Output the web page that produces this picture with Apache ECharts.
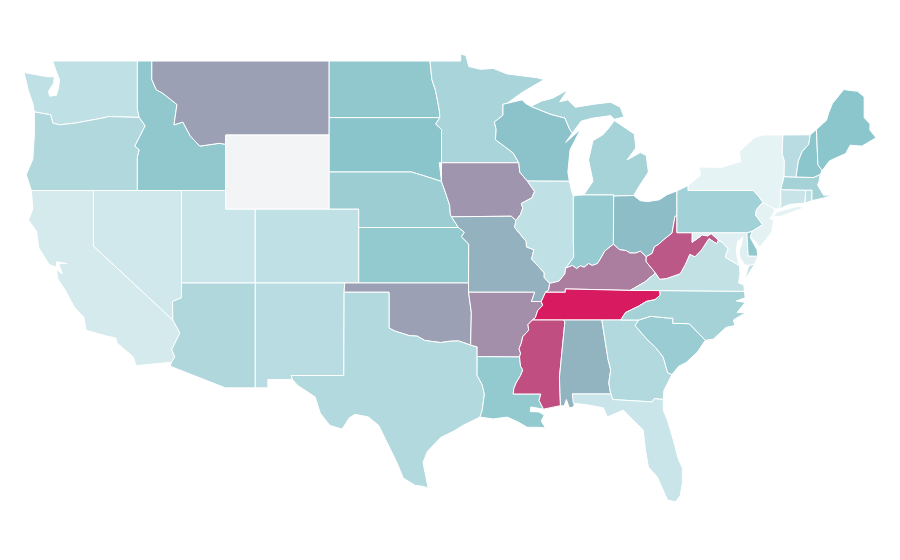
<!DOCTYPE html>
<html>

<head>
    <meta charset="utf-8">
    <script src="https://cdn.jsdelivr.net/npm/echarts@6/dist/echarts.min.js"></script>
    <style>
        html, body { margin: 0; background: #fff; }
    </style>
</head>

<body>
    <div id="main" style="width: 900px;height:560px;"></div>
    <script type="text/javascript">
        // values (Wyoming has no value, it is drawn in the pale grey)
        var stateNames = ['Washington', 'Oregon', 'California', 'Nevada', 'Idaho', 'Montana', 'Utah', 'Arizona', 'Colorado', 'New Mexico',
            'North Dakota', 'South Dakota', 'Nebraska', 'Kansas', 'Oklahoma', 'Texas', 'Minnesota', 'Iowa', 'Missouri', 'Arkansas',
            'Louisiana', 'Wisconsin', 'Illinois', 'Michigan', 'Indiana', 'Ohio', 'Kentucky', 'Tennessee', 'Mississippi', 'Alabama',
            'Georgia', 'Florida', 'South Carolina', 'North Carolina', 'Virginia', 'West Virginia', 'Maryland', 'Delaware', 'Pennsylvania', 'New Jersey',
            'New York', 'Connecticut', 'Rhode Island', 'Massachusetts', 'Vermont', 'New Hampshire', 'Maine'];
        var stateValues = [21, 29, 10, 12, 47, 61, 15, 30, 21, 25,
            47, 50, 41, 45, 61, 28, 33, 64, 56, 66,
            45, 51, 21, 35, 43, 52, 71, 100, 85, 55,
            28, 15, 42, 36, 20, 82, 4, 47, 37, 1,
            0, 16, 20, 36, 25, 49, 49];

        // shared borders, lon/lat
        var wiMn = [[-92.02, 46.71], [-92.29, 46.66], [-92.29, 46.07], [-92.87, 45.7], [-92.75, 45.3], [-92.8, 44.75], [-92.3, 44.45], [-91.6, 44.03], [-91.22, 43.5]];
        var wiIa = [[-91.22, 43.5], [-91.15, 42.99], [-90.64, 42.51]];
        var iaIl = [[-90.64, 42.51], [-90.15, 41.95], [-90.34, 41.6], [-91.05, 41.3], [-90.95, 41.05], [-91.1, 40.7], [-91.42, 40.38]];
        var moIl = [[-91.42, 40.38], [-91.5, 40.0], [-90.72, 39.25], [-90.7, 38.95], [-90.2, 38.8], [-90.35, 38.3], [-89.9, 37.9], [-89.5, 37.55], [-89.5, 37.3], [-89.13, 36.98]];
        var kyMo = [[-89.13, 36.98], [-89.2, 36.62], [-89.42, 36.5]];
        var tnMo = [[-89.42, 36.5], [-89.55, 36.25], [-89.7, 36.0]];
        var tnAr = [[-89.7, 36.0], [-89.6, 35.8], [-89.95, 35.5], [-90.1, 35.12], [-90.3, 35.0]];
        var msAr = [[-90.3, 35.0], [-90.6, 34.75], [-90.55, 34.45], [-90.95, 34.1], [-91.05, 33.75], [-91.2, 33.45], [-91.1, 33.2], [-91.17, 33.0]];
        var msLa = [[-91.17, 33.0], [-91.1, 32.5], [-90.95, 32.3], [-91.1, 32.0], [-91.4, 31.6], [-91.55, 31.3], [-91.6, 31.0], [-89.73, 31.0], [-89.85, 30.65], [-89.55, 30.18]];
        var ilKy = [[-89.13, 36.98], [-88.5, 37.1], [-88.1, 37.5], [-88.05, 37.8]];
        var inKy = [[-88.05, 37.8], [-87.6, 37.95], [-87.3, 37.78], [-87.05, 37.93], [-86.8, 37.85], [-86.5, 38.05], [-86.25, 37.95], [-85.9, 38.05], [-85.7, 38.3], [-85.4, 38.73], [-84.82, 39.1]];
        var ohKy = [[-84.82, 39.1], [-84.4, 38.8], [-83.95, 38.75], [-83.7, 38.62], [-83.3, 38.62], [-83.0, 38.72], [-82.6, 38.42]];
        var ohWv = [[-82.6, 38.42], [-82.2, 38.6], [-82.05, 38.95], [-81.75, 39.1], [-81.4, 39.35], [-80.85, 39.7], [-80.65, 40.6], [-80.52, 40.64]];
        var wvKy = [[-82.6, 38.42], [-82.6, 38.15], [-81.97, 37.54]];
        var vaKy = [[-81.97, 37.54], [-82.7, 37.05], [-83.68, 36.6]];
        var vaWv = [[-81.97, 37.54], [-81.68, 37.2], [-81.23, 37.24], [-80.3, 37.5], [-79.95, 38.0], [-79.65, 38.55], [-79.3, 38.42], [-78.87, 38.77], [-78.35, 39.4], [-77.83, 39.13], [-77.72, 39.32]];
        var wvMd = [[-77.72, 39.32], [-78.2, 39.67], [-78.45, 39.55], [-78.8, 39.6], [-79.49, 39.2], [-79.48, 39.72]];
        var mdVa = [[-77.72, 39.32], [-77.45, 39.2], [-77.05, 38.85], [-77.25, 38.4], [-76.95, 38.25], [-76.3, 37.95]];
        var tnNc = [[-81.68, 36.59], [-81.65, 36.35], [-82.0, 36.1], [-82.6, 36.0], [-83.1, 35.75], [-84.0, 35.4], [-84.32, 35.0]];
        var ncSc = [[-78.6, 33.9], [-79.68, 34.8], [-80.8, 34.82], [-80.8, 35.1], [-81.05, 35.1], [-82.3, 35.2], [-83.1, 35.0]];
        var gaSc = [[-83.1, 35.0], [-83.35, 34.7], [-82.6, 34.0], [-81.95, 33.5], [-81.45, 33.0], [-81.15, 32.15], [-80.85, 32.05]];
        var gaAl = [[-85.6, 35.0], [-85.18, 32.87], [-85.0, 32.3], [-85.13, 31.6], [-85.0, 31.0]];
        var gaFl = [[-84.86, 30.7], [-82.2, 30.57], [-82.05, 30.75], [-81.45, 30.7]];
        var alMs = [[-88.2, 35.0], [-88.1, 34.9], [-88.47, 31.9], [-88.4, 30.37]];
        var txOk = [[-100.0, 36.5], [-100.0, 34.56], [-99.6, 34.4], [-99.2, 34.3], [-98.6, 34.15], [-98.1, 34.13], [-97.6, 33.9], [-97.2, 33.85], [-96.5, 33.78], [-95.9, 33.85], [-95.3, 33.87], [-94.48, 33.64]];
        var txLa = [[-94.04, 33.02], [-94.04, 32.0], [-93.7, 31.5], [-93.55, 31.0], [-93.7, 30.1], [-93.85, 29.75]];
        var okAr = [[-94.62, 36.5], [-94.43, 35.4], [-94.48, 33.64]];
        var neIa = [[-96.45, 42.49], [-96.1, 41.7], [-95.9, 41.2], [-95.85, 40.7], [-95.77, 40.58]];
        var neMo = [[-95.77, 40.58], [-95.31, 40.0]];
        var ksMo = [[-95.31, 40.0], [-94.9, 39.75], [-95.1, 39.5], [-94.61, 39.11], [-94.62, 37.0]];
        var sdMn = [[-96.56, 45.94], [-96.85, 45.6], [-96.45, 45.3], [-96.45, 43.5]];
        var ndMn = [[-97.23, 49.0], [-97.1, 48.0], [-96.85, 47.4], [-96.6, 46.35], [-96.56, 45.94]];
        var sdNe = [[-104.05, 43.0], [-98.5, 43.0], [-97.85, 42.85], [-96.45, 42.49]];
        var mtId = [[-116.05, 49.0], [-116.05, 48.0], [-115.75, 47.45], [-115.3, 47.25], [-114.35, 46.65], [-114.55, 45.55], [-113.95, 45.7], [-113.45, 44.95], [-112.8, 44.4], [-111.5, 44.55], [-111.05, 44.5]];
        var orId = [[-116.9, 45.95], [-116.5, 45.5], [-117.2, 44.4], [-116.9, 44.2], [-117.03, 43.8], [-117.03, 42.0]];
        var waOr = [[-124.0, 46.25], [-123.3, 46.15], [-122.9, 46.1], [-122.75, 45.65], [-122.3, 45.55], [-121.2, 45.65], [-119.3, 45.93], [-118.98, 46.0], [-116.9, 45.95]];
        var azCa = [[-114.63, 35.0], [-114.15, 34.3], [-114.7, 33.4], [-114.5, 33.0], [-114.72, 32.72]];
        var azNv = [[-114.04, 37.0], [-114.05, 36.2], [-114.65, 36.0], [-114.63, 35.0]];
        var paNj = [[-74.7, 41.36], [-75.13, 40.98], [-75.2, 40.68], [-74.72, 40.15], [-75.42, 39.8]];
        var vtNh = [[-71.5, 45.01], [-71.6, 44.5], [-72.05, 44.1], [-72.3, 43.6], [-72.46, 42.73]];
        var vtNy = [[-73.35, 45.0], [-73.4, 44.0], [-73.25, 43.6], [-73.27, 42.75]];

        function rev(line) {
            return line.slice().reverse();
        }
        function ring() {
            var pts = [];
            for (var i = 0; i < arguments.length; i++) {
                pts = pts.concat(arguments[i]);
            }
            pts.push(pts[0]);
            return [pts];
        }

        var stateShapes = {
            'Washington': [ring([[-122.76, 49.0], [-117.03, 49.0], [-117.03, 46.4]], rev(waOr), [[-124.1, 46.7], [-124.4, 47.4], [-124.7, 48.38], [-123.1, 48.15], [-122.65, 48.15], [-122.7, 47.8], [-123.05, 47.35], [-122.95, 47.1], [-122.5, 47.15], [-122.35, 47.6], [-122.3, 48.0], [-122.5, 48.4]])],
            'Oregon': [ring(waOr, orId, [[-120.0, 42.0], [-124.2, 42.0], [-124.55, 42.85], [-124.1, 43.7], [-124.0, 45.0]])],
            'California': [ring([[-124.2, 42.0], [-120.0, 42.0], [-120.0, 39.0]], azCa, [[-117.12, 32.53], [-117.3, 33.0], [-118.4, 33.75], [-118.5, 34.03], [-119.2, 34.15], [-120.5, 34.45], [-120.65, 35.15], [-121.3, 35.7], [-121.9, 36.6], [-122.4, 37.2], [-122.5, 37.7], [-122.1, 37.5], [-122.35, 38.05], [-121.8, 38.05], [-122.5, 38.15], [-122.5, 37.85], [-123.0, 38.0], [-123.7, 38.9], [-123.85, 39.8], [-124.4, 40.4], [-124.1, 41.0]])],
            'Nevada': [ring([[-120.0, 42.0], [-114.04, 42.0]], azNv, [[-120.0, 39.0]])],
            'Idaho': [ring([[-117.03, 49.0]], mtId, [[-111.05, 42.0]], rev(orId), [[-117.03, 46.4]])],
            'Montana': [ring([[-104.05, 49.0], [-104.05, 45.0], [-111.05, 45.0]], rev(mtId))],
            'Utah': [ring([[-114.04, 42.0], [-111.05, 42.0], [-111.05, 41.0], [-109.05, 41.0], [-109.05, 37.0], [-114.04, 37.0]])],
            'Arizona': [ring([[-109.05, 37.0], [-109.05, 31.33], [-111.07, 31.33], [-114.81, 32.5]], rev(azCa), rev(azNv))],
            'Colorado': [ring([[-109.05, 41.0], [-102.05, 41.0], [-102.05, 37.0], [-109.05, 37.0]])],
            'New Mexico': [ring([[-109.05, 37.0], [-103.0, 37.0], [-103.04, 36.5], [-103.06, 32.0], [-106.62, 32.0], [-106.53, 31.78], [-108.2, 31.78], [-108.2, 31.33], [-109.05, 31.33]])],
            'Wyoming': [ring([[-111.05, 45.0], [-104.05, 45.0], [-104.05, 41.0], [-111.05, 41.0]])],
            'North Dakota': [ring([[-104.05, 49.0]], ndMn, [[-104.05, 45.94]])],
            'South Dakota': [ring([[-104.05, 45.94]], sdMn, [[-96.6, 43.5]], rev(sdNe))],
            'Nebraska': [ring(sdNe, neIa, neMo, [[-102.05, 40.0], [-102.05, 41.0], [-104.05, 41.0]])],
            'Kansas': [ring([[-102.05, 40.0]], ksMo, [[-102.05, 37.0]])],
            'Oklahoma': [ring([[-103.0, 37.0], [-94.62, 37.0]], okAr, rev(txOk), [[-103.04, 36.5]])],
            'Texas': [ring([[-103.04, 36.5]], txOk, [[-94.04, 33.55]], txLa, [[-95.0, 29.3], [-95.6, 29.0], [-96.5, 28.65], [-97.4, 27.9], [-97.7, 27.3], [-97.35, 25.9], [-97.65, 26.0], [-98.25, 26.07], [-99.04, 26.46], [-99.45, 27.27], [-99.9, 28.0], [-100.7, 29.3], [-101.4, 29.76], [-102.3, 29.9], [-102.7, 29.7], [-103.17, 29.1], [-104.0, 29.3], [-104.66, 29.97], [-105.0, 30.84], [-106.2, 31.47], [-106.53, 31.78], [-106.62, 32.0], [-103.06, 32.0]])],
            'Minnesota': [ring(ndMn.slice(0, 1), [[-95.15, 49.0], [-95.15, 49.38], [-94.8, 49.3], [-94.6, 48.7], [-93.8, 48.55], [-92.95, 48.6], [-92.0, 48.3], [-91.0, 48.2], [-90.0, 48.1], [-89.5, 48.0], [-91.0, 47.3]], wiMn, rev(sdMn), rev(ndMn).slice(1))],
            'Iowa': [ring([[-96.45, 43.5]], wiIa, iaIl, [[-91.73, 40.61]], rev(neIa))],
            'Missouri': [ring(neMo.slice(0, 1), [[-91.73, 40.61]], moIl, kyMo, tnMo, [[-90.37, 36.0], [-90.15, 36.5], [-94.62, 36.5]], rev(ksMo))],
            'Arkansas': [ring([[-94.62, 36.5], [-90.15, 36.5], [-90.37, 36.0]], tnAr, msAr, [[-94.04, 33.02], [-94.04, 33.55]], rev(okAr).slice(0, 2))],
            'Louisiana': [ring(msLa, [[-90.4, 30.3], [-90.45, 30.05], [-89.85, 30.03], [-89.5, 29.85], [-89.7, 29.55], [-89.42, 29.16], [-89.9, 29.2], [-90.65, 29.2], [-91.3, 29.5], [-92.0, 29.75], [-92.95, 29.65]], rev(txLa))],
            'Wisconsin': [ring(rev(wiMn), [[-91.0, 46.9], [-90.75, 46.7], [-90.4, 46.55], [-89.1, 46.13], [-88.1, 45.92], [-87.8, 45.35], [-87.6, 45.1], [-88.05, 44.6], [-87.05, 45.3], [-87.75, 44.2], [-87.9, 43.0], [-87.8, 42.5]], rev(wiIa))],
            'Illinois': [ring([[-90.64, 42.51], [-87.8, 42.5], [-87.6, 41.85], [-87.53, 41.7], [-87.53, 39.35], [-87.5, 38.4]], rev(ilKy), rev(moIl), rev(iaIl))],
            'Michigan': [
                ring([[-90.4, 46.55], [-89.1, 46.13], [-88.1, 45.92], [-87.8, 45.35], [-87.6, 45.1], [-87.0, 45.75], [-86.3, 45.9], [-85.0, 46.05], [-84.75, 45.85], [-84.1, 45.98], [-84.35, 46.5], [-85.0, 46.77], [-86.1, 46.67], [-87.4, 46.5], [-87.9, 46.9], [-88.45, 46.8], [-87.9, 47.45], [-88.9, 47.0], [-89.7, 46.83]]),
                ring([[-86.82, 41.76], [-84.8, 41.76], [-84.8, 41.7], [-83.45, 41.73], [-83.1, 42.2], [-82.45, 43.0], [-82.6, 43.9], [-83.0, 44.05], [-83.9, 43.65], [-83.3, 44.3], [-83.4, 45.05], [-84.75, 45.78], [-85.1, 45.4], [-85.55, 45.0], [-86.2, 44.7], [-86.5, 43.65], [-86.2, 42.5]])
            ],
            'Indiana': [ring([[-87.53, 41.7], [-87.2, 41.75], [-86.82, 41.76], [-84.8, 41.76], [-84.8, 41.7]], rev(inKy), [[-87.5, 38.4], [-87.53, 39.35]])],
            'Ohio': [ring([[-84.8, 41.7], [-83.45, 41.73], [-83.0, 41.45], [-82.5, 41.4], [-81.7, 41.5], [-81.2, 41.77], [-80.52, 41.98]], rev(ohWv), rev(ohKy))],
            'Kentucky': [ring(ilKy, inKy, ohKy, wvKy, vaKy, [[-88.07, 36.68], [-88.07, 36.5]], rev(kyMo))],
            'Tennessee': [ring(tnMo.slice(0, 1), [[-88.07, 36.5], [-88.07, 36.68], [-83.68, 36.6]], tnNc, [[-85.6, 35.0], [-88.2, 35.0]], rev(tnAr), rev(tnMo))],
            'Mississippi': [ring(msAr, msLa, rev(alMs), [[-88.2, 35.0]])],
            'Alabama': [ring(alMs.slice(0, 1), [[-85.6, 35.0]], gaAl.slice(1), [[-87.6, 31.0], [-87.4, 30.65], [-87.52, 30.3], [-87.8, 30.25], [-88.0, 30.7], [-88.15, 30.35], [-88.4, 30.37]], rev(alMs).slice(1))],
            'Georgia': [ring([[-85.6, 35.0], [-84.32, 35.0]], gaSc, [[-81.4, 31.2]], rev(gaFl), rev(gaAl).slice(0, 4))],
            'Florida': [ring([[-87.6, 31.0], [-85.0, 31.0]], gaFl, [[-81.43, 30.1], [-81.17, 29.6], [-80.76, 28.5], [-80.42, 27.46], [-80.15, 27.0], [-80.15, 26.2], [-80.3, 25.5], [-80.62, 25.16], [-81.16, 25.27], [-81.84, 26.5], [-82.45, 27.05], [-82.65, 27.97], [-82.8, 29.05], [-83.5, 29.6], [-84.15, 30.13], [-85.23, 29.76], [-85.5, 30.25], [-86.5, 30.4], [-87.53, 30.5]])],
            'South Carolina': [ring(ncSc, gaSc, [[-80.4, 32.5], [-79.9, 32.7], [-79.13, 33.27]])],
            'North Carolina': [ring([[-81.68, 36.59], [-75.95, 36.55], [-75.9, 36.2], [-76.5, 36.03], [-75.9, 35.95], [-76.45, 35.4], [-75.85, 35.4], [-76.7, 35.0], [-76.6, 34.7], [-77.2, 34.6], [-78.05, 33.97]], ncSc, [[-84.32, 35.0]], rev(tnNc).slice(1))],
            'Virginia': [
                ring([[-83.68, 36.6]], rev(vaKy), vaWv, mdVa.slice(1), [[-76.25, 37.5], [-76.35, 37.0], [-76.0, 36.9], [-75.95, 36.55], [-81.68, 36.59]]),
                ring([[-75.95, 37.15], [-75.6, 37.6], [-75.25, 38.03], [-75.65, 37.95]])
            ],
            'West Virginia': [ring(ohWv, [[-80.52, 39.72], [-79.48, 39.72]], rev(wvMd), rev(vaWv), rev(wvKy).slice(1))],
            'Maryland': [ring([[-79.48, 39.72], [-75.79, 39.72], [-75.7, 38.46], [-75.05, 38.45], [-75.25, 38.03], [-75.65, 37.95], [-75.95, 38.0], [-76.25, 38.35], [-76.3, 38.75], [-76.15, 39.1], [-76.05, 39.5], [-76.4, 39.25], [-76.5, 38.85], [-76.45, 38.4]], rev(mdVa), wvMd.slice(1))],
            'Delaware': [ring([[-75.79, 39.72], [-75.42, 39.8], [-75.55, 39.45], [-75.1, 38.8], [-75.05, 38.45], [-75.7, 38.46]])],
            'Pennsylvania': [ring([[-80.52, 41.98], [-79.76, 42.27], [-79.76, 42.0], [-75.35, 42.0], [-75.05, 41.75]], paNj, [[-75.79, 39.72], [-80.52, 39.72], [-80.52, 40.64]])],
            'New Jersey': [ring(paNj.slice(0, 1), [[-73.9, 41.0], [-74.05, 40.65], [-74.25, 40.5], [-73.98, 40.4], [-74.1, 39.75], [-74.9, 38.95], [-75.55, 39.5]], rev(paNj).slice(0, 4))],
            'New York': [
                ring([[-79.76, 42.27], [-78.9, 42.85], [-79.05, 43.27], [-77.5, 43.25], [-76.5, 43.5], [-76.2, 43.55], [-76.3, 44.1], [-75.3, 44.85], [-74.7, 45.0]], vtNy, [[-73.5, 42.05], [-73.49, 41.2], [-73.65, 41.0], [-73.9, 41.0], [-74.7, 41.36], [-75.05, 41.75], [-75.35, 42.0], [-79.76, 42.0]]),
                ring([[-74.02, 40.6], [-73.75, 40.85], [-72.3, 41.15], [-71.9, 41.07], [-73.5, 40.6]])
            ],
            'Connecticut': [ring([[-73.5, 42.05], [-71.8, 42.02], [-71.86, 41.32], [-72.9, 41.25], [-73.65, 41.0], [-73.49, 41.2]])],
            'Rhode Island': [ring([[-71.8, 42.02], [-71.38, 42.02], [-71.38, 41.45], [-71.86, 41.32]])],
            'Massachusetts': [ring([[-73.5, 42.05], [-73.27, 42.75], [-72.46, 42.73], [-71.3, 42.7], [-70.82, 42.87], [-70.9, 42.5], [-71.0, 42.3], [-70.6, 41.75], [-70.0, 41.75], [-70.6, 41.6], [-71.38, 41.45], [-71.38, 42.02], [-71.8, 42.02]])],
            'Vermont': [ring(vtNy.slice(0, 1), rev(vtNh).slice(-1), vtNh.slice(1), rev(vtNy))],
            'New Hampshire': [ring([[-71.5, 45.01], [-71.08, 45.3], [-70.98, 43.4], [-70.7, 43.07], [-70.82, 42.87], [-71.3, 42.7]], rev(vtNh))],
            'Maine': [ring([[-71.08, 45.3], [-70.4, 45.8], [-70.25, 46.2], [-70.0, 46.7], [-69.23, 47.46], [-69.0, 47.43], [-68.3, 47.36], [-67.85, 47.07], [-67.85, 45.94], [-67.45, 45.6], [-67.47, 45.28], [-67.05, 44.85], [-68.0, 44.4], [-68.8, 44.45], [-69.1, 44.0], [-69.8, 43.75], [-70.2, 43.6], [-70.7, 43.07], [-70.98, 43.4]])]
        };

        var features = [];
        for (var name in stateShapes) {
            features.push({
                type: 'Feature',
                properties: { name: name },
                geometry: { type: 'MultiPolygon', coordinates: stateShapes[name] }
            });
        }
        echarts.registerMap('USA', { type: 'FeatureCollection', features: features });

        var mapData = [];
        for (var i = 0; i < stateNames.length; i++) {
            mapData.push({ name: stateNames[i], value: stateValues[i] });
        }

        var chart = echarts.init(document.getElementById('main'));

        chart.setOption({
            animation: false,
            visualMap: {
                show: false,
                min: 0,
                max: 100,
                inRange: { color: ['#e6f3f5', '#8ac5cc', '#d81b60'] }
            },
            series: [
                {
                    type: 'map',
                    map: 'USA',
                    aspectScale: 0.798,
                    left: 24,
                    top: 54,
                    width: 852,
                    height: 448,
                    roam: false,
                    silent: true,
                    selectedMode: false,
                    label: { show: false },
                    itemStyle: {
                        areaColor: '#f3f4f6',
                        borderColor: '#fff',
                        borderWidth: 1
                    },
                    data: mapData
                }
            ]
        });
    </script>
</body>

</html>
